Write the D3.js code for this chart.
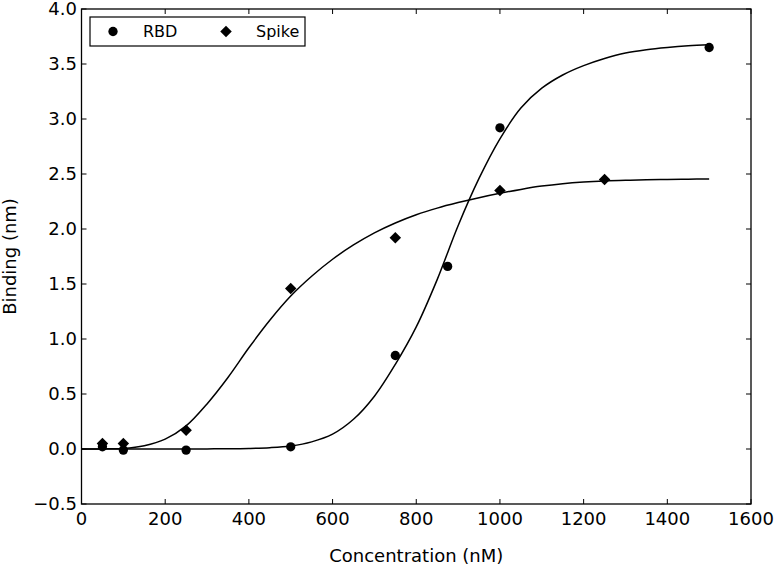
<!DOCTYPE html>
<html>
<head>
<meta charset="utf-8">
<script src="https://cdn.jsdelivr.net/npm/d3@7"></script>
<style>
  body { margin: 0; background: #fff; }
  svg text { font-family: "DejaVu Sans", sans-serif; fill: #000; }
</style>
</head>
<body>
<svg id="chart"></svg>
<script>
// measured points
var rbdX = [50, 100, 250, 500, 750, 875, 1000, 1500];
var rbdY = [0.02, -0.01, -0.01, 0.02, 0.85, 1.66, 2.92, 3.65];
var spikeX = [50, 100, 250, 500, 750, 1000, 1250];
var spikeY = [0.05, 0.05, 0.17, 1.46, 1.92, 2.35, 2.45];

// fitted curves, every 50 nM
var fitX = [0, 50, 100, 150, 200, 250, 300, 350, 400, 450, 500, 550, 600, 650, 700, 750,
            800, 850, 900, 950, 1000, 1050, 1100, 1150, 1200, 1250, 1300, 1350, 1400, 1450, 1500];
var rbdFit = [0, 0, 0, 0, 0, 0, 0.001, 0.002, 0.005, 0.012, 0.028, 0.065, 0.135, 0.27, 0.48, 0.77,
              1.11, 1.54, 2.03, 2.46, 2.82, 3.10, 3.28, 3.40, 3.485, 3.55, 3.60, 3.63, 3.65, 3.665, 3.675];
var spikeFit = [0, 0.001, 0.005, 0.03, 0.09, 0.21, 0.41, 0.65, 0.92, 1.17, 1.39, 1.57, 1.725, 1.855, 1.965, 2.055,
                2.13, 2.19, 2.24, 2.285, 2.325, 2.36, 2.39, 2.412, 2.427, 2.437, 2.443, 2.447, 2.45, 2.453, 2.455];

var xTicks = [0, 200, 400, 600, 800, 1000, 1200, 1400, 1600];
var yTicks = [-0.5, 0.0, 0.5, 1.0, 1.5, 2.0, 2.5, 3.0, 3.5, 4.0];

function drawChart(){
  var width = 776, height = 567;
  var pLeft = 81.5, pRight = 751, pTop = 9, pBottom = 504;

  var svg = d3.select("#chart").attr("width", width).attr("height", height);

  var x = d3.scaleLinear().domain([0, 1600]).range([pLeft, pRight]);
  var y = d3.scaleLinear().domain([-0.5, 4.0]).range([pBottom, pTop]);

  // ticks (inward on all four sides, matplotlib classic)
  var tickLen = 5;
  var g = svg.append("g");
  xTicks.forEach(function(t){
    g.append("line").attr("x1", x(t)).attr("x2", x(t)).attr("y1", pBottom).attr("y2", pBottom - tickLen)
      .attr("stroke", "#000");
    g.append("line").attr("x1", x(t)).attr("x2", x(t)).attr("y1", pTop).attr("y2", pTop + tickLen)
      .attr("stroke", "#000");
    g.append("text").attr("x", x(t)).attr("y", pBottom + 21).attr("text-anchor", "middle")
      .style("font-size", "18px").text(t);
  });
  yTicks.forEach(function(t){
    g.append("line").attr("x1", pLeft).attr("x2", pLeft + tickLen).attr("y1", y(t)).attr("y2", y(t))
      .attr("stroke", "#000");
    g.append("line").attr("x1", pRight).attr("x2", pRight - tickLen).attr("y1", y(t)).attr("y2", y(t))
      .attr("stroke", "#000");
    g.append("text").attr("x", pLeft - 4.5).attr("y", y(t)).attr("dy", "0.36em").attr("text-anchor", "end")
      .style("font-size", "18px").text(t < 0 ? "\u2212" + Math.abs(t).toFixed(1) : t.toFixed(1));
  });

  // curves
  var line = d3.line().x(function(d){ return x(d[0]); }).y(function(d){ return y(d[1]); })
    .curve(d3.curveCatmullRom.alpha(0.5));
  [rbdFit, spikeFit].forEach(function(vals){
    svg.append("path").datum(fitX.map(function(v, i){ return [v, vals[i]]; }))
      .attr("d", line).attr("fill", "none").attr("stroke", "#000").attr("stroke-width", 1.5);
  });

  // points
  var circle = d3.symbol().type(d3.symbolCircle).size(68);
  var diamond = d3.symbol().type(d3.symbolSquare).size(66);
  svg.selectAll(".rbd").data(rbdX).enter().append("path")
    .attr("d", circle)
    .attr("transform", function(d, i){ return "translate(" + x(d) + "," + y(rbdY[i]) + ")"; })
    .attr("fill", "#000");
  svg.selectAll(".spike").data(spikeX).enter().append("path")
    .attr("d", diamond)
    .attr("transform", function(d, i){ return "translate(" + x(d) + "," + y(spikeY[i]) + ") rotate(45)"; })
    .attr("fill", "#000");

  // frame
  svg.append("rect").attr("x", pLeft).attr("y", pTop).attr("width", pRight - pLeft).attr("height", pBottom - pTop)
    .attr("fill", "none").attr("stroke", "#000").attr("stroke-width", 1.3);

  // legend
  var lg = svg.append("g");
  lg.append("rect").attr("x", 90).attr("y", 17).attr("width", 215).attr("height", 29)
    .attr("fill", "#fff").attr("stroke", "#000").attr("stroke-width", 1.2);
  lg.append("path").attr("d", circle).attr("transform", "translate(113,31.5)").attr("fill", "#000");
  lg.append("text").attr("x", 143).attr("y", 37).style("font-size", "16px").text("RBD");
  lg.append("path").attr("d", diamond).attr("transform", "translate(226,31.5) rotate(45)").attr("fill", "#000");
  lg.append("text").attr("x", 256).attr("y", 37).style("font-size", "16px").text("Spike");

  // axis labels
  svg.append("text").attr("x", (pLeft + pRight) / 2).attr("y", 562).attr("text-anchor", "middle")
    .style("font-size", "18px").text("Concentration (nM)");
  svg.append("text").attr("transform", "translate(16," + ((pTop + pBottom) / 2) + ") rotate(-90)")
    .attr("text-anchor", "middle").style("font-size", "18px").text("Binding (nm)");
}

drawChart();
</script>
</body>
</html>
